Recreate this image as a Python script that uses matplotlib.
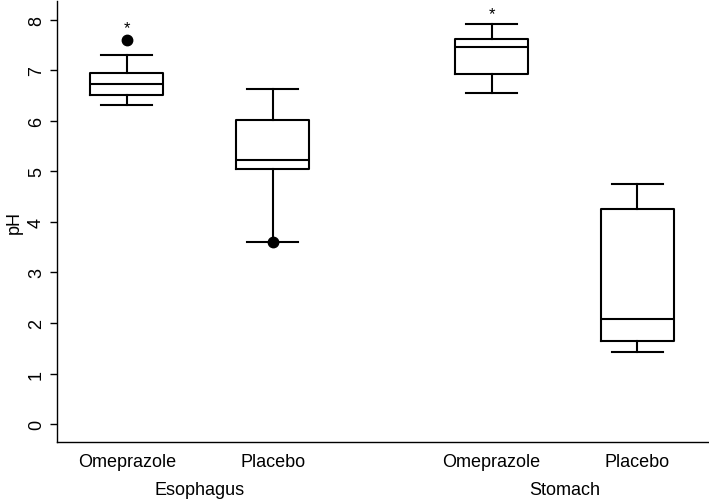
import matplotlib.pyplot as plt

plt.rcParams['font.family'] = ['Liberation Sans', 'DejaVu Sans']

# box statistics (pH)
groups = ["Esophagus", "Stomach"]
labels = ["Omeprazole", "Placebo", "Omeprazole", "Placebo"]
positions = [1, 2, 3.5, 4.5]
whislo = [6.31, 3.60, 6.55, 1.42]
q1 = [6.51, 5.05, 6.92, 1.64]
med = [6.72, 5.23, 7.46, 2.07]
q3 = [6.94, 6.01, 7.61, 4.25]
whishi = [7.31, 6.62, 7.92, 4.74]
fliers = [[7.59], [3.60], [], []]
star_y = [7.85, None, 8.12, None]

stats = []
for i in range(len(labels)):
    stats.append(dict(label=labels[i], whislo=whislo[i], q1=q1[i], med=med[i],
                      q3=q3[i], whishi=whishi[i], fliers=fliers[i]))

fig = plt.figure(figsize=(7.09, 5.02), dpi=100)
ax = fig.add_axes([0.080, 0.1175, 0.92, 0.8785])

lw = 1.5
ax.bxp(stats, positions=positions, widths=0.5, capwidths=0.35,
       boxprops=dict(color="black", linewidth=lw),
       medianprops=dict(color="black", linewidth=lw),
       whiskerprops=dict(color="black", linewidth=lw),
       capprops=dict(color="black", linewidth=lw),
       flierprops=dict(marker="o", markerfacecolor="black",
                       markeredgecolor="black", markersize=7.5))

for p, s in zip(positions, star_y):
    if s is not None:
        ax.text(p, s, "*", ha="center", va="center", fontsize=12)

ax.set_xlim(0.52, 4.99)
ax.set_ylim(-0.355, 8.37)
ax.set_yticks(range(0, 9))
ax.tick_params(axis="y", labelrotation=90, labelsize=13, length=5, width=1)
ax.tick_params(axis="x", length=0, labelsize=13, pad=8)
for t in ax.get_yticklabels():
    t.set_va("center")
ax.set_ylabel("pH", fontsize=13)
ax.spines["top"].set_visible(False)
ax.spines["right"].set_visible(False)
ax.spines["left"].set_linewidth(1)
ax.spines["bottom"].set_linewidth(1)

for g, pair in zip(groups, [positions[0:2], positions[2:4]]):
    ax.annotate(g, xy=(sum(pair) / 2, 0), xycoords=("data", "axes fraction"),
                xytext=(0, -34), textcoords="offset points",
                ha="center", va="center", fontsize=13)

fig.savefig("out.png", dpi=100)
